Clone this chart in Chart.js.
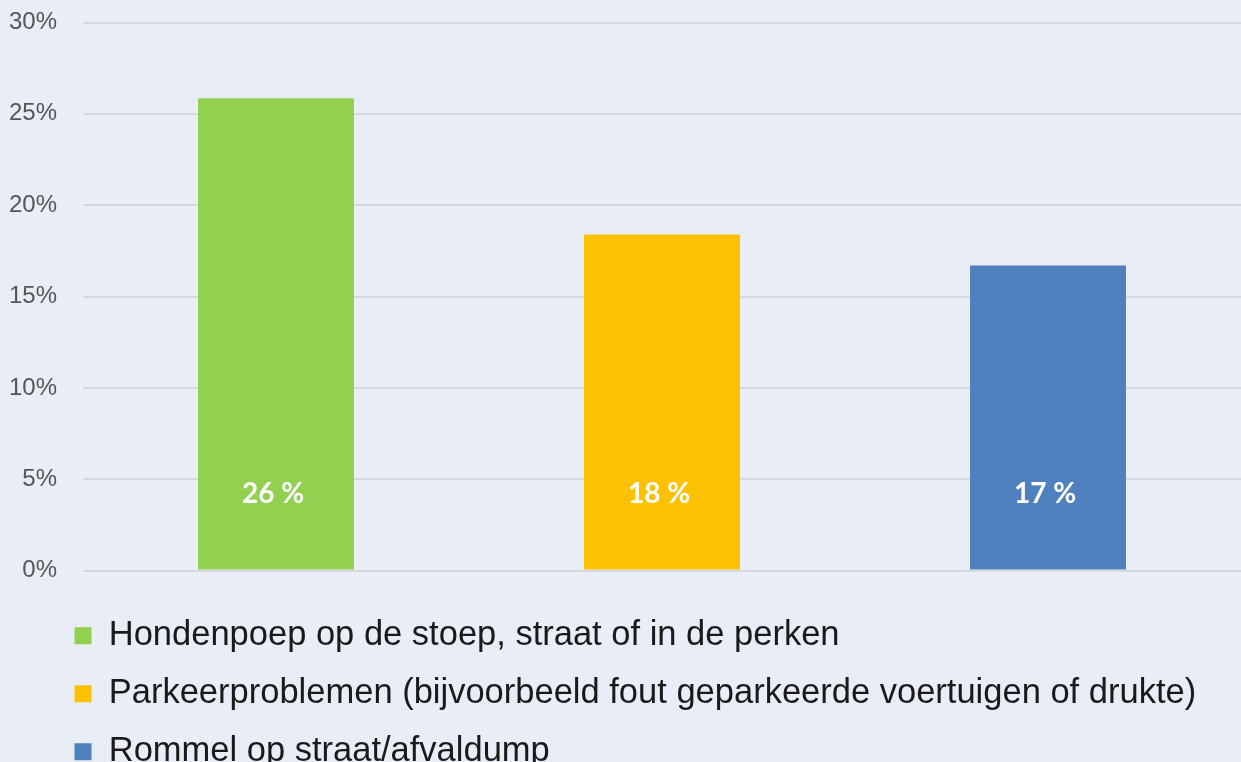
<!DOCTYPE html>
<html>
<head>
<meta charset="utf-8">
<script src="https://cdn.jsdelivr.net/npm/chart.js@4/dist/chart.umd.min.js"></script>
<style>
  html, body { margin: 0; padding: 0; background: #E9EEF6; overflow: hidden; }
  #wrap { position: absolute; left: 0; top: 0; width: 1241px; height: 779px; }
</style>
</head>
<body>
<div id="wrap"><canvas id="chart"></canvas></div>
<script>
'use strict';

// data
var categories = [
  'Hondenpoep op de stoep, straat of in de perken',
  'Parkeerproblemen (bijvoorbeeld fout geparkeerde voertuigen of drukte)',
  'Rommel op straat/afvaldump'
];
var values = [25.85, 18.4, 16.7];
var barColors = ['#92D050', '#FBC102', '#4E81BD'];
var yMax = 30;
var yStep = 5;
var labelAt = 4.2; // value at which the in-bar labels sit

var datasets = categories.map(function(name, i) {
  var data = categories.map(function(c, j) { return j === i ? values[i] : null; });
  return {
    label: name,
    data: data,
    backgroundColor: barColors[i],
    borderWidth: 0,
    grouped: false,
    categoryPercentage: 0.404,
    barPercentage: 1
  };
});

var barLabels = {
  id: 'barLabels',
  afterDatasetsDraw: function(chart) {
    var ctx = chart.ctx,
      y = chart.scales.y.getPixelForValue(labelAt);
    ctx.save();
    ctx.fillStyle = '#FFFFFF';
    ctx.font = 'bold 28px Lato, "Open Sans", sans-serif';
    ctx.textAlign = 'center';
    ctx.textBaseline = 'middle';
    chart.data.datasets.forEach(function(ds, i) {
      var bar = chart.getDatasetMeta(i).data[i];
      ctx.fillText(Math.round(values[i]) + ' %', bar.x - 3, y);
    });
    ctx.restore();
  }
};

// legend rows start further in than the y axis labels
var legendIndent = {
  id: 'legendIndent',
  afterLayout: function(chart) {
    chart.legend.left += 51;
  }
};

new Chart(document.getElementById('chart'), {
  type: 'bar',
  data: { labels: categories, datasets: datasets },
  plugins: [barLabels, legendIndent],
  options: {
    responsive: true,
    maintainAspectRatio: false,
    animation: false,
    layout: { padding: { left: 0, top: 22.5, right: 0, bottom: 0 } },
    scales: {
      x: { display: false },
      y: {
        min: 0,
        max: yMax,
        ticks: {
          stepSize: yStep,
          padding: 26,
          color: '#555555',
          font: { family: '"Liberation Sans", Arial, sans-serif', size: 24 },
          callback: function(v) { return v + '%'; }
        },
        grid: { color: '#D5D9DF', lineWidth: 2, drawTicks: false },
        border: { display: false },
        afterFit: function(scale) {
          scale.width = 83;
          scale.paddingTop = 0;
          scale.paddingBottom = 0;
        }
      }
    },
    plugins: {
      tooltip: { enabled: false },
      legend: {
        position: 'bottom',
        align: 'start',
        title: { display: true, text: '', padding: { top: 4, bottom: 6 } },
        labels: {
          boxWidth: 17,
          boxHeight: 17,
          padding: 23.5,
          color: '#1A1A1A',
          font: { family: '"Liberation Sans", Arial, sans-serif', size: 34.5 }
        }
      }
    }
  }
});
</script>
</body>
</html>
